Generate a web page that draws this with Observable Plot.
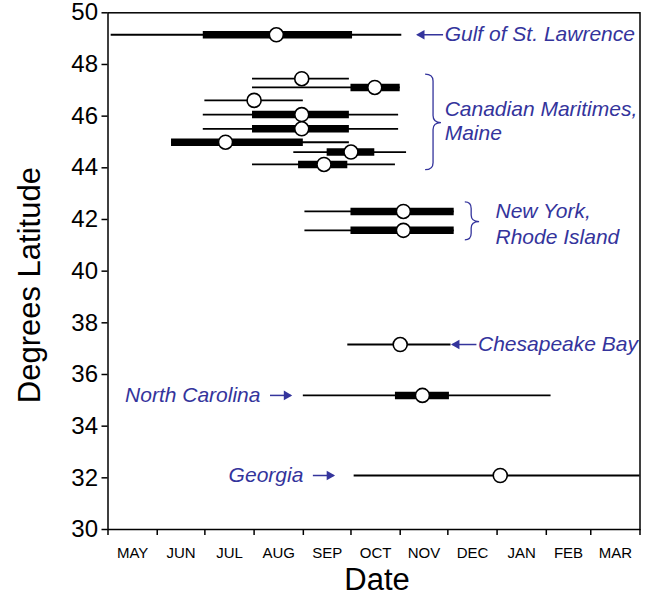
<!DOCTYPE html>
<html><head><meta charset="utf-8">
<script src="https://cdn.jsdelivr.net/npm/d3@7"></script>
<script src="https://cdn.jsdelivr.net/npm/@observablehq/plot@0.6"></script>
<style>
body{margin:0;background:#fff;}
svg{font-family:"Liberation Sans",Arial,sans-serif;}
</style></head><body><div id="chart"></div>
<script>
// ---- data ----
const latitudes = [49.15, 47.45, 47.11, 46.61, 46.06, 45.51, 44.99, 44.61, 44.13, 42.31, 41.58, 37.16, 35.19, 32.09];
const rangeStart = ["2001-05-03","2001-07-31","2001-07-31","2001-07-01","2001-06-30","2001-06-30","2001-06-10","2001-08-26","2001-07-31","2001-09-02","2001-09-02","2001-09-29","2001-09-01","2001-10-03"];
const rangeEnd   = ["2001-11-02","2001-09-30","2001-11-01","2001-09-01","2001-10-31","2001-10-31","2001-09-30","2001-11-05","2001-10-29","2001-12-05","2001-12-05","2001-12-03","2002-02-04","2002-04-01"];
const coreStart  = ["2001-06-30",null,"2001-10-01",null,"2001-07-31","2001-07-31","2001-06-10","2001-09-16","2001-08-29","2001-10-01","2001-10-01",null,"2001-10-29",null];
const coreEnd    = ["2001-10-02",null,"2001-11-01",null,"2001-09-30","2001-09-30","2001-09-01","2001-10-16","2001-09-29","2001-12-05","2001-12-05",null,"2001-12-02",null];
const medianDate = ["2001-08-15","2001-08-31","2001-10-16","2001-08-01","2001-08-31","2001-08-31","2001-07-14","2001-10-01","2001-09-14","2001-11-03","2001-11-03","2001-11-01","2001-11-15","2002-01-03"];

const monthLabels = ["MAY","JUN","JUL","AUG","SEP","OCT","NOV","DEC","JAN","FEB","MAR"];
const monthStarts = ["2001-05-01","2001-06-01","2001-07-01","2001-08-01","2001-09-01","2001-10-01","2001-11-01","2001-12-01","2002-01-01","2002-02-01","2002-03-01","2002-04-01"];
const latTicks = [30,32,34,36,38,40,42,44,46,48,50];

// annotation labels (anchored in data space)
const leftLabels = ["Gulf of St. Lawrence","Canadian Maritimes,","Maine","New York,","Rhode Island","Chesapeake Bay"];
const leftLabelDate = ["2001-11-29","2001-11-29","2001-11-29","2001-12-31","2001-12-31","2001-12-20"];
const leftLabelLat = [49.15, 46.28, 45.32, 42.30, 41.33, 37.16];
const rightLabels = ["North Carolina","Georgia"];
const rightLabelDate = ["2001-08-05","2001-09-01"];
const rightLabelLat = [35.19, 32.09];
// arrows: tail -> head
const arrowTail = ["2001-11-28","2001-12-19","2001-08-11","2001-09-07"];
const arrowHead = ["2001-11-12","2001-12-04","2001-08-24","2001-09-20"];
const arrowLat  = [49.15, 37.16, 35.19, 32.09];
// braces
const braceEnd  = ["2001-11-17","2001-12-12"];
const braceStem = ["2001-11-22","2001-12-16"];
const braceTip  = ["2001-11-27","2001-12-21"];
const braceTop  = [47.61, 42.66];
const braceMid  = [45.73, 41.90];
const braceBot  = [43.91, 41.19];

// ---- build tables ----
const D = s => s == null ? null : new Date(s);
const rows = latitudes.map((lat, i) => ({
  lat, lo: D(rangeStart[i]), hi: D(rangeEnd[i]),
  q1: D(coreStart[i]), q3: D(coreEnd[i]), med: D(medianDate[i])
}));
const cores = rows.filter(d => d.q1);
const starts = monthStarts.map(D);
const mids = monthLabels.map((m, i) => new Date((+starts[i] + +starts[i+1]) / 2));
const lefts = leftLabels.map((t, i) => ({t, x: D(leftLabelDate[i]), y: leftLabelLat[i]}));
const rights = rightLabels.map((t, i) => ({t, x: D(rightLabelDate[i]), y: rightLabelLat[i]}));
const arrows = arrowTail.map((a, i) => ({x1: D(a), x2: D(arrowHead[i]), y: arrowLat[i]}));
const arrowsL = arrows.filter(a => a.x2 < a.x1);
const arrowsR = arrows.filter(a => a.x2 > a.x1);
const braces = braceEnd.map((e, i) => ({end: D(e), stem: D(braceStem[i]), tip: D(braceTip[i]), top: braceTop[i], mid: braceMid[i], bot: braceBot[i]}));

const BLUE = "#34349c";

const braceMark = (index, scales) => {
  const g = document.createElementNS("http://www.w3.org/2000/svg", "g");
  for (const b of braces) {
    const x0 = scales.x(b.end), xm = scales.x(b.stem), xt = scales.x(b.tip);
    const yt = scales.y(b.top), ym = scales.y(b.mid), yb = scales.y(b.bot);
    const r = Math.min(7, (ym - yt) / 3);
    const p = document.createElementNS("http://www.w3.org/2000/svg", "path");
    p.setAttribute("d",
      `M${x0},${yt} Q${xm},${yt} ${xm},${yt + r} L${xm},${ym - r} Q${xm},${ym} ${xt},${ym} ` +
      `Q${xm},${ym} ${xm},${ym + r} L${xm},${yb - r} Q${xm},${yb} ${x0},${yb}`);
    p.setAttribute("fill", "none");
    p.setAttribute("stroke", BLUE);
    p.setAttribute("stroke-width", "1.3");
    g.appendChild(p);
  }
  return g;
};

const chart = Plot.plot({
  width: 645,
  height: 603,
  marginLeft: 107.5,
  marginRight: 5.5,
  marginTop: 12.3,
  marginBottom: 74,
  x: {type: "utc", domain: [starts[0], starts[starts.length - 1]]},
  y: {domain: [30, 50]},
  marks: [
    Plot.axisY({ticks: latTicks, tickSize: 6, tickPadding: 4, fontSize: 24, strokeWidth: 1.5, label: null, tickFormat: d => String(d)}),
    Plot.axisX({ticks: starts, tickSize: 6, strokeWidth: 1.5, tickFormat: () => "", label: null}),
    Plot.axisX({ticks: mids, tickSize: 0, tickPadding: 18, fontSize: 15, label: null,
      tickFormat: d => monthLabels[mids.findIndex(m => +m === +d)]}),
    Plot.frame({stroke: "black", strokeWidth: 1.5}),
    Plot.ruleY(rows, {y: "lat", x1: "lo", x2: "hi", stroke: "black", strokeWidth: 1.8}),
    Plot.ruleY(cores, {y: "lat", x1: "q1", x2: "q3", stroke: "black", strokeWidth: 7.5}),
    Plot.dot(rows, {x: "med", y: "lat", r: 7, fill: "white", stroke: "black", strokeWidth: 1.6}),
    Plot.link(arrows, {x1: "x1", x2: "x2", y1: "y", y2: "y", stroke: BLUE, strokeWidth: 1.5}),
    Plot.dot(arrowsL, {x: "x2", y: "y", symbol: "triangle", rotate: -90, r: 3.6, fill: BLUE, stroke: "none", dx: 4}),
    Plot.dot(arrowsR, {x: "x2", y: "y", symbol: "triangle", rotate: 90, r: 3.6, fill: BLUE, stroke: "none", dx: -4}),
    braceMark,
    Plot.text(lefts, {x: "x", y: "y", text: "t", textAnchor: "start", fill: BLUE, fontSize: 21, fontStyle: "italic"}),
    Plot.text(rights, {x: "x", y: "y", text: "t", textAnchor: "end", fill: BLUE, fontSize: 21, fontStyle: "italic"}),
    Plot.text(["Degrees Latitude"], {frameAnchor: "left", textAnchor: "middle", rotate: -90, dx: -78, dy: 14, fontSize: 31, fill: "black"}),
    Plot.text(["Date"], {frameAnchor: "bottom", textAnchor: "middle", dy: 60, dx: 3, fontSize: 31, fill: "black"})
  ]
});
document.getElementById("chart").appendChild(chart);
</script></body></html>
